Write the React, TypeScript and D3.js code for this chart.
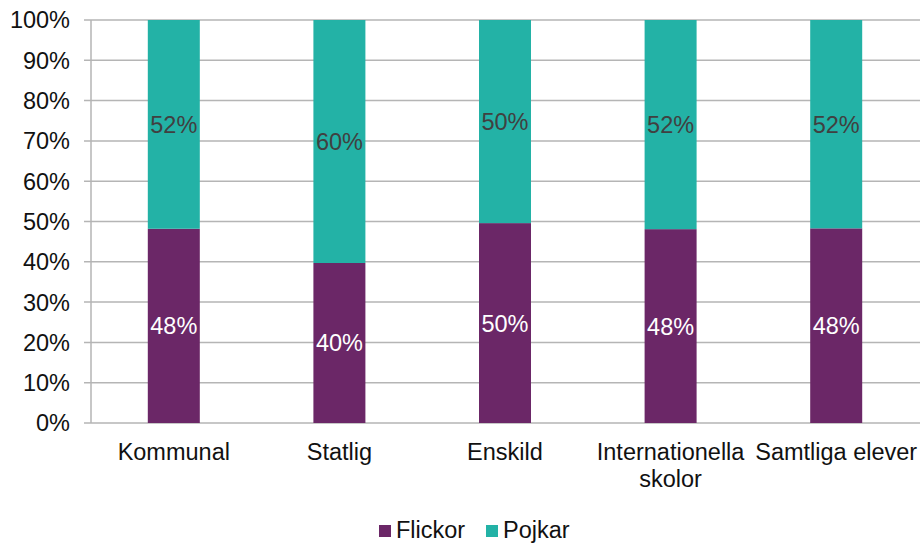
import * as d3 from "d3";
import { useEffect, useRef } from "react";

const categories = ["Kommunal", "Statlig", "Enskild", "Internationella skolor", "Samtliga elever"];
const flickor = [0.482, 0.397, 0.496, 0.481, 0.483];
const pojkar = [0.518, 0.603, 0.504, 0.519, 0.517];
const yTicks = [0, 0.1, 0.2, 0.3, 0.4, 0.5, 0.6, 0.7, 0.8, 0.9, 1];
const seriesNames = ["Flickor", "Pojkar"];

const WIDTH = 920;
const HEIGHT = 545;
const FONT = "'Liberation Sans', Arial, sans-serif";
const FS = 23.5;
const colors = ["#6B2767", "#23B2A6"];

export default function App() {
  const ref = useRef<SVGSVGElement>(null);

  useEffect(() => {
    document.body.style.margin = "0";
    const svg = d3.select(ref.current);
    svg.selectAll("*").remove();

    const margin = { left: 91, right: 1, top: 20, bottom: 122 };
    const x = d3
      .scaleBand<string>()
      .domain(categories)
      .range([margin.left, WIDTH - margin.right])
      .paddingInner(0.686)
      .paddingOuter(0.343);
    const y = d3
      .scaleLinear()
      .domain([0, 1])
      .range([HEIGHT - margin.bottom, margin.top]);

    const pct = d3.format(".0%");

    // gridlines
    svg
      .append("g")
      .selectAll("line")
      .data(yTicks)
      .enter()
      .append("line")
      .attr("x1", margin.left - 7)
      .attr("x2", WIDTH)
      .attr("y1", (d) => y(d))
      .attr("y2", (d) => y(d))
      .attr("stroke", "#b5b5b5")
      .attr("stroke-width", 1.5);

    // y axis line
    svg
      .append("line")
      .attr("x1", margin.left)
      .attr("x2", margin.left)
      .attr("y1", y(1))
      .attr("y2", y(0))
      .attr("stroke", "#b5b5b5")
      .attr("stroke-width", 1.5);

    // y tick labels
    svg
      .append("g")
      .selectAll("text")
      .data(yTicks)
      .enter()
      .append("text")
      .attr("x", 70)
      .attr("y", (d) => y(d))
      .attr("dy", "0.36em")
      .attr("text-anchor", "end")
      .attr("font-family", FONT)
      .attr("font-size", FS)
      .attr("fill", "#111")
      .text((d) => pct(d));

    // stacked bars
    const stacks = [flickor, pojkar];
    stacks.forEach((vals, si) => {
      const base = si === 0 ? categories.map(() => 0) : flickor;
      const g = svg.append("g");
      g.selectAll("rect")
        .data(categories)
        .enter()
        .append("rect")
        .attr("x", (d) => x(d)!)
        .attr("width", x.bandwidth())
        .attr("y", (d, i) => y(base[i] + vals[i]))
        .attr("height", (d, i) => y(base[i]) - y(base[i] + vals[i]))
        .attr("fill", colors[si]);
      g.selectAll("text")
        .data(categories)
        .enter()
        .append("text")
        .attr("x", (d) => x(d)! + x.bandwidth() / 2)
        .attr("y", (d, i) => y(base[i] + vals[i] / 2))
        .attr("dy", "0.36em")
        .attr("text-anchor", "middle")
        .attr("font-family", FONT)
        .attr("font-size", FS)
        .attr("fill", si === 0 ? "#ffffff" : "#404040")
        .text((d, i) => pct(vals[i]));
    });

    // category labels
    const catG = svg.append("g");
    categories.forEach((c) => {
      const words = c === "Internationella skolor" ? ["Internationella", "skolor"] : [c];
      const t = catG
        .append("text")
        .attr("x", x(c)! + x.bandwidth() / 2)
        .attr("y", 460)
        .attr("text-anchor", "middle")
        .attr("font-family", FONT)
        .attr("font-size", FS)
        .attr("fill", "#111");
      words.forEach((w, i) => {
        t.append("tspan")
          .attr("x", x(c)! + x.bandwidth() / 2)
          .attr("dy", i === 0 ? 0 : 27)
          .text(w);
      });
    });

    // legend
    const legendX = [379, 486];
    const legend = svg
      .append("g")
      .selectAll("g")
      .data(seriesNames)
      .enter()
      .append("g")
      .attr("transform", (d, i) => `translate(${legendX[i]}, 525)`);
    legend
      .append("rect")
      .attr("width", 12)
      .attr("height", 12)
      .attr("fill", (d, i) => colors[i]);
    legend
      .append("text")
      .attr("x", 17)
      .attr("y", 13)
      .attr("font-family", FONT)
      .attr("font-size", FS)
      .attr("fill", "#111")
      .text((d) => d);
  }, []);

  return <svg ref={ref} width={WIDTH} height={HEIGHT} style={{ display: "block" }} />;
}
